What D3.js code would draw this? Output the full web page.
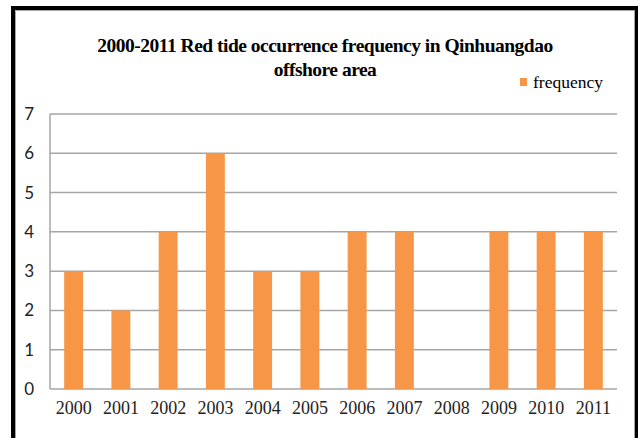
<!DOCTYPE html>
<html>
<head>
<meta charset="utf-8">
<script src="https://cdn.jsdelivr.net/npm/d3@7"></script>
<style>
  body { margin: 0; background: #fff; }
  svg { display: block; }
</style>
</head>
<body>
<div id="chart"></div>
<script>
const years = ["2000", "2001", "2002", "2003", "2004", "2005", "2006", "2007", "2008", "2009", "2010", "2011"];
const frequency = [3, 2, 4, 6, 3, 3, 4, 4, 0, 4, 4, 4];
const yTicks = [0, 1, 2, 3, 4, 5, 6, 7];
const titleLines = ["2000-2011 Red tide occurrence frequency in Qinhuangdao", "offshore area"];
const seriesName = "frequency";

const width = 638;
const height = 438;
const margin = { top: 114, right: 21, bottom: 49, left: 50 };
const plotW = width - margin.left - margin.right;
const plotH = height - margin.top - margin.bottom;

const svg = d3.select("#chart").append("svg")
  .attr("width", width)
  .attr("height", height);

// frame: black outer edge with a thin gray inner edge
svg.append("path")
  .attr("d", `M13,${height} V8 H636.5 V${height}`)
  .attr("fill", "none")
  .attr("stroke", "#000")
  .attr("stroke-width", 4);
svg.append("path")
  .attr("d", `M15.5,${height} V10.5 H634.5 V${height}`)
  .attr("fill", "none")
  .attr("stroke", "#a6a6a6")
  .attr("stroke-width", 1);

const chart = svg.append("g")
  .attr("transform", `translate(${margin.left},${margin.top})`);

const x = d3.scaleBand()
  .domain(years)
  .range([0, plotW])
  .paddingInner(0.6)
  .paddingOuter(0.3);

const y = d3.scaleLinear()
  .domain([0, 7])
  .range([plotH, 0]);

// gridlines
chart.append("g")
  .selectAll("line")
  .data(yTicks)
  .enter()
  .append("line")
  .attr("x1", 0)
  .attr("x2", plotW)
  .attr("y1", d => y(d))
  .attr("y2", d => y(d))
  .attr("stroke", "#a6a6a6")
  .attr("stroke-width", 1.5);

chart.append("line")
  .attr("x1", 0)
  .attr("x2", 0)
  .attr("y1", 0)
  .attr("y2", plotH)
  .attr("stroke", "#a6a6a6")
  .attr("stroke-width", 1.5);

chart.selectAll(".bar")
  .data(years.map((yr, i) => ({ year: yr, value: frequency[i] })))
  .enter()
  .append("rect")
  .attr("class", "bar")
  .attr("x", d => x(d.year))
  .attr("y", d => y(d.value))
  .attr("width", x.bandwidth())
  .attr("height", d => plotH - y(d.value))
  .attr("fill", "#f79646");

const yAxis = chart.append("g")
  .call(d3.axisLeft(y).tickValues(yTicks).tickFormat(d3.format("d")).tickSize(0).tickPadding(16));
yAxis.select(".domain").remove();
yAxis.selectAll("text")
  .attr("fill", "#222")
  .style("font-family", "Lato, 'Noto Sans', sans-serif")
  .style("font-size", "17px");

const xAxis = chart.append("g")
  .attr("transform", `translate(0,${plotH})`)
  .call(d3.axisBottom(x).tickSize(0).tickPadding(12));
xAxis.select(".domain").remove();
xAxis.selectAll("text")
  .attr("fill", "#222")
  .style("font-family", "'Liberation Serif', 'Times New Roman', serif")
  .style("font-size", "18px");

svg.append("g")
  .selectAll("text")
  .data(titleLines)
  .enter()
  .append("text")
  .attr("x", 325)
  .attr("y", (d, i) => 52 + i * 24)
  .attr("text-anchor", "middle")
  .style("font-family", "'Liberation Serif', 'Times New Roman', serif")
  .style("font-weight", "bold")
  .style("font-size", "19.5px")
  .style("letter-spacing", "-0.5px")
  .text(d => d);

const legend = svg.append("g")
  .attr("transform", "translate(520,78)");
legend.append("rect")
  .attr("width", 7)
  .attr("height", 8)
  .attr("fill", "#f79646");
legend.append("text")
  .attr("x", 13)
  .attr("y", 10)
  .style("font-family", "'Liberation Serif', 'Times New Roman', serif")
  .style("font-size", "17.5px")
  .text(seriesName);
</script>
</body>
</html>
